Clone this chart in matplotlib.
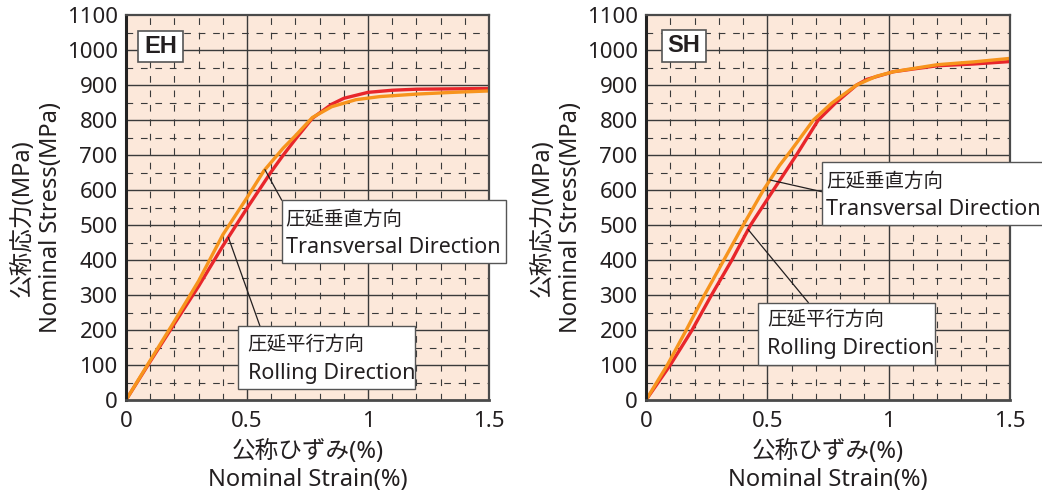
import numpy as np
import matplotlib
matplotlib.use("Agg")
import matplotlib.pyplot as plt
from matplotlib.patches import Rectangle

plt.rcParams['font.family'] = ['Noto Sans', 'Noto Sans CJK JP', 'DejaVu Sans']

# stress-strain curves, strain in %, stress in MPa
eh_rolling_strain = [0, 0.1, 0.2, 0.3, 0.4, 0.5, 0.55, 0.6, 0.65, 0.7, 0.77, 0.85, 0.9, 1.0, 1.1, 1.2, 1.35, 1.5]
eh_rolling_stress = [0, 110, 218, 325, 440, 548, 600, 652, 700, 745, 805, 845, 862, 879, 885, 888, 889, 890]
eh_trans_strain = [0, 0.1, 0.2, 0.3, 0.4, 0.5, 0.57, 0.65, 0.7, 0.77, 0.85, 0.95, 1.05, 1.2, 1.35, 1.5]
eh_trans_stress = [0, 113, 225, 340, 472, 578, 655, 720, 755, 807, 838, 858, 867, 874, 879, 883]

sh_rolling_strain = [0, 0.1, 0.19, 0.27, 0.354, 0.431, 0.525, 0.62, 0.71, 0.78, 0.868, 0.91, 1.02, 1.2, 1.35, 1.5]
sh_rolling_stress = [0, 100, 200, 300, 400, 500, 600, 700, 800, 848, 900, 916, 938, 955, 960, 967]
sh_trans_strain = [0, 0.088, 0.166, 0.241, 0.321, 0.401, 0.484, 0.55, 0.6, 0.69, 0.765, 0.868, 0.95, 1.02, 1.2, 1.35, 1.5]
sh_trans_stress = [0, 100, 200, 300, 400, 500, 600, 670, 715, 800, 848, 900, 925, 938, 958, 966, 976]

x_ticks = [0, 0.5, 1, 1.5]
x_tick_labels = ['0', '0.5', '1', '1.5']
y_ticks = list(range(0, 1101, 100))

RED = '#E8262B'
ORANGE = '#F7941D'
BG = '#FCE8DA'
INK = '#231F20'

fig = plt.figure(figsize=(10.42, 4.93), dpi=100)
ax_eh = fig.add_axes([126 / 1042, 93 / 493, 363 / 1042, 385 / 493])
ax_sh = fig.add_axes([646 / 1042, 93 / 493, 364 / 1042, 385 / 493])


def setup(ax):
    ax.set_facecolor(BG)
    ax.set_xlim(0, 1.5)
    ax.set_ylim(0, 1100)
    # dashed fine grid
    for v in np.arange(0.1, 1.5, 0.1):
        if abs(v - 0.5) > 1e-6 and abs(v - 1.0) > 1e-6:
            ax.axvline(v, color='#3a3a3a', lw=0.8, ls=(0, (6, 7)), zorder=1)
    for h in range(50, 1100, 100):
        ax.axhline(h, color='#3a3a3a', lw=0.8, ls=(0, (6, 7)), zorder=1)
    # solid main grid
    for v in (0.5, 1.0):
        ax.axvline(v, color='#3a3a3a', lw=1.0, zorder=1)
    for h in range(100, 1100, 100):
        ax.axhline(h, color='#3a3a3a', lw=1.0, zorder=1)
    ax.set_xticks(x_ticks)
    ax.set_xticklabels(x_tick_labels)
    ax.set_yticks(y_ticks)
    ax.tick_params(length=0, labelsize=16, colors=INK)
    ax.tick_params(axis='y', pad=6)
    ax.tick_params(axis='x', pad=8)
    for s in ax.spines.values():
        s.set_color('#4a4a4a')
        s.set_linewidth(1.6)
        s.set_zorder(5)
    ax.spines['left'].set_color('#222222')
    ax.spines['left'].set_linewidth(2.2)
    ax.spines['bottom'].set_linewidth(2.0)
    w = ax.get_position().width * 1042
    ax.text(0.5, -0.135, '公称ひずみ(%)', transform=ax.transAxes, ha='center', va='center',
            fontsize=17, color=INK)
    ax.text(0.5, -0.207, 'Nominal Strain(%)', transform=ax.transAxes, ha='center', va='center',
            fontsize=17, color=INK)
    ax.text(-103 / w, 0.473, '公称応力(MPa)', transform=ax.transAxes, ha='center', va='center',
            rotation=90, fontsize=17, color=INK)
    ax.text(-75 / w, 0.473, 'Nominal Stress(MPa)', transform=ax.transAxes, ha='center', va='center',
            rotation=90, fontsize=17, color=INK)


def callout(ax, box, text_x, line_ys, lines, start, strain, curve_x, curve_y):
    x0, y0, x1, y1 = box
    ax.add_patch(Rectangle((x0, y0), x1 - x0, y1 - y0, transform=ax.transAxes,
                           facecolor='white', edgecolor='#555555', lw=1.0,
                           clip_on=False, zorder=7))
    for ty, s, fs in zip(line_ys, lines, (14, 15.5)):
        ax.text(text_x, ty, s, transform=ax.transAxes, ha='left', va='center',
                fontsize=fs, color=INK, zorder=8)
    stress = np.interp(strain, curve_x, curve_y)
    ax.annotate('', xy=(strain, stress), xycoords='data',
                xytext=start, textcoords='axes fraction',
                arrowprops=dict(arrowstyle='-', color=INK, lw=0.9,
                                shrinkA=0, shrinkB=0), zorder=6)


def tag(ax, box, label):
    x0, y0, x1, y1 = box
    ax.add_patch(Rectangle((x0, y0), x1 - x0, y1 - y0, transform=ax.transAxes,
                           facecolor='white', edgecolor='#555555', lw=1.2, zorder=7))
    ax.text((x0 + x1) / 2, (y0 + y1) / 2, label, transform=ax.transAxes,
            ha='center', va='center', fontsize=17, fontweight='bold',
            family=['Liberation Sans', 'DejaVu Sans'], color=INK, zorder=8)


for ax in (ax_eh, ax_sh):
    setup(ax)

# EH
ax_eh.plot(eh_rolling_strain, eh_rolling_stress, color=RED, lw=2.4, zorder=3,
           solid_joinstyle='round')
ax_eh.plot(eh_trans_strain, eh_trans_stress, color=ORANGE, lw=2.4, zorder=4,
           solid_joinstyle='round')
tag(ax_eh, (0.033, 0.878, 0.157, 0.958), 'EH')
callout(ax_eh, (0.429, 0.356, 1.047, 0.519), 0.44, (0.468, 0.395),
        ('圧延垂直方向', 'Transversal Direction'), (0.429, 0.519),
        0.574, eh_trans_strain, eh_trans_stress)
callout(ax_eh, (0.309, 0.029, 0.796, 0.192), 0.335, (0.143, 0.069),
        ('圧延平行方向', 'Rolling Direction'), (0.369, 0.192),
        0.423, eh_rolling_strain, eh_rolling_stress)

# SH
ax_sh.plot(sh_rolling_strain, sh_rolling_stress, color=RED, lw=2.4, zorder=3,
           solid_joinstyle='round')
ax_sh.plot(sh_trans_strain, sh_trans_stress, color=ORANGE, lw=2.4, zorder=4,
           solid_joinstyle='round')
tag(ax_sh, (0.043, 0.878, 0.165, 0.961), 'SH')
callout(ax_sh, (0.483, 0.455, 1.09, 0.619), 0.495, (0.567, 0.494),
        ('圧延垂直方向', 'Transversal Direction'), (0.483, 0.541),
        0.511, sh_trans_strain, sh_trans_stress)
callout(ax_sh, (0.308, 0.091, 0.794, 0.253), 0.332, (0.208, 0.134),
        ('圧延平行方向', 'Rolling Direction'), (0.446, 0.253),
        0.421, sh_rolling_strain, sh_rolling_stress)

fig.savefig('out.png', dpi=100)
